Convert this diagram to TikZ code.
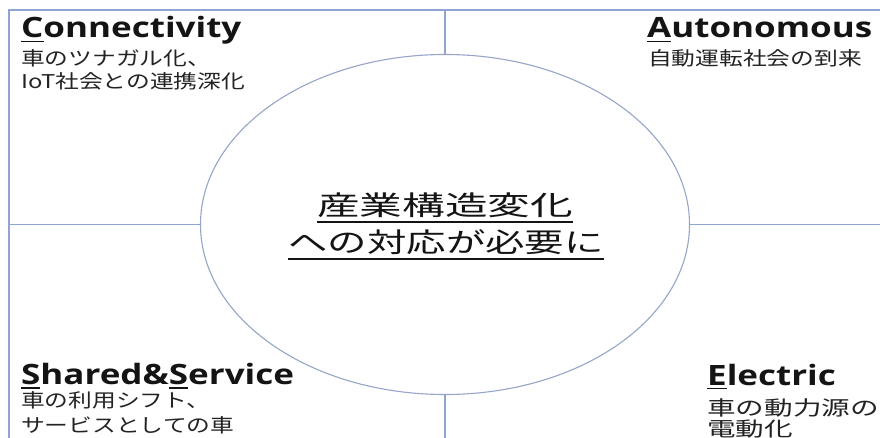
\documentclass[tikz,border=0pt]{standalone}
\usepackage{fontspec}
\usetikzlibrary{shapes.geometric}
\setmainfont{Open Sans}
\newfontfamily\titlefont[FakeStretch=1.25]{Open Sans}
\newfontfamily\jpfont[FakeStretch=1.25]{Noto Sans CJK JP}
\newfontfamily\jpwide[FakeStretch=1.43]{Noto Sans CJK JP}
\newfontfamily\jpcenter[FakeStretch=1.58]{Noto Sans CJK JP}
\newfontfamily\jpcenterb[FakeStretch=1.46]{Noto Sans CJK JP}
\definecolor{framec}{RGB}{143,164,208}
\definecolor{ellc}{RGB}{150,165,200}
\definecolor{titlec}{RGB}{20,20,20}
\definecolor{jpc}{RGB}{35,35,35}
\newcommand\ulfirst[1]{\setbox0\hbox{#1}\rlap{\rule[-4.4pt]{\wd0}{1.8pt}}\box0}
\tikzset{
  frame/.style={draw=framec, line width=1.8pt},
  hubshape/.style={ellipse, draw=ellc, line width=1.1pt, minimum width=489pt, minimum height=340pt, inner sep=0pt},
  titletext/.style={anchor=base west, inner sep=0pt, text=titlec, font=\titlefont\bfseries\fontsize{28}{28}\selectfont},
  jptext/.style={anchor=base west, inner sep=0pt, text=jpc, font=\jpfont\fontsize{19}{19}\selectfont},
  jpwidetext/.style={anchor=base west, inner sep=0pt, text=jpc, font=\jpwide\fontsize{20}{20}\selectfont},
  centertext/.style={anchor=base, inner sep=0pt, text=titlec, font=\jpcenter\fontsize{27}{27}\selectfont},
  centertextb/.style={anchor=base, inner sep=0pt, text=titlec, font=\jpcenterb\fontsize{27}{27}\selectfont},
  uline/.style={draw=titlec, line width=1.5pt}
}
\begin{document}
\begin{tikzpicture}[x=1pt,y=-1pt]
\useasboundingbox (0,0) rectangle (880,438);
\fill[white] (0,0) rectangle (880,438);
% hub
\node[hubshape] (hub) at (445,224.5) {};
% frame
\coordinate (tl) at (9,10);
\coordinate (tr) at (880,10);
\coordinate (bl) at (9,438);
\draw[frame] (bl) -- (tl) -- (tr);
\coordinate (tm) at (445,10);
\coordinate (bm) at (445,438);
\coordinate (lm) at (9,224.5);
\coordinate (rm) at (880,224.5);
\draw[frame] (tm) -- (hub.north);
\draw[frame] (hub.south) -- (bm);
\draw[frame] (lm) -- (hub.west);
\draw[frame] (hub.east) -- (rm);
% Connectivity
\node[titletext] (ct) at (21,38) {\ulfirst{C}onnectivity};
\node[jptext] (cj1) at (21,65.5) {車のツナガル化、};
\node[jptext] (cj2) at (21,88.5) {IoT社会との連携深化};
% Autonomous
\node[titletext] (at) at (647,38) {\ulfirst{A}utonomous};
\node[jptext] (aj1) at (648,65.5) {自動運転社会の到来};
% Shared & Service
\node[titletext] (st) at (21,384.5) {\ulfirst{S}hared\&\ulfirst{S}ervice};
\node[jptext] (sj1) at (21,407) {車の利用シフト、};
\node[jptext] (sj2) at (21,432) {サービスとしての車};
% Electric
\node[titletext] (et) at (707,385) {\ulfirst{E}lectric};
\node[jpwidetext] (ej1) at (707,415) {車の動力源の};
\node[jpwidetext] (ej2) at (707,436) {電動化};
% center
\node[centertext] (c1) at (445,216) {産業構造変化};
\node[centertextb] (c2) at (446,252) {への対応が必要に};
\draw[uline] ([yshift=-6pt]c1.base west) -- ([yshift=-6pt]c1.base east);
\draw[uline] ([yshift=-7pt]c2.base west) -- ([yshift=-7pt]c2.base east);
\end{tikzpicture}
\end{document}
